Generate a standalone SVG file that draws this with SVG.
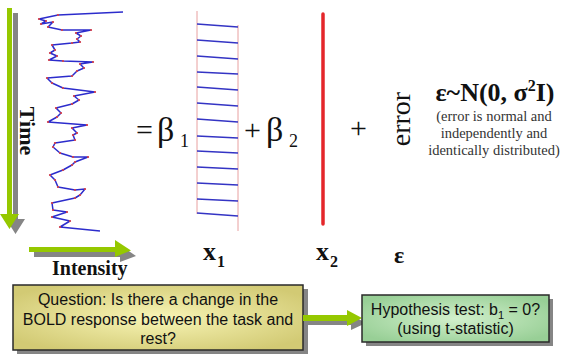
<svg xmlns="http://www.w3.org/2000/svg" width="562" height="355" viewBox="0 0 562 355">
<defs>
<radialGradient id="gq" cx="50%" cy="50%" r="60%">
<stop offset="0" stop-color="#f8f5b6"/>
<stop offset="1" stop-color="#d2ca74"/>
</radialGradient>
<radialGradient id="gh" cx="50%" cy="50%" r="60%">
<stop offset="0" stop-color="#d2f0cc"/>
<stop offset="1" stop-color="#98cf96"/>
</radialGradient>
<marker id="dot" markerUnits="userSpaceOnUse" markerWidth="4" markerHeight="4" refX="2" refY="2">
<circle cx="2" cy="2" r="1.1" fill="#e04040"/>
</marker>
</defs>
<style>
.serif{font-family:"Liberation Serif","Times New Roman",serif;fill:#111}
.b{font-weight:bold}
.sans{font-family:"Liberation Sans",Arial,sans-serif;font-size:16px;fill:#111;text-anchor:middle}
.green2{fill:#95c800}
.shadow{fill:#858585}
.box{stroke:#2a2a2a;stroke-width:1.5}
.wave{fill:none;stroke:#2c2ccc;stroke-width:1.5;stroke-linejoin:round;marker-mid:url(#dot)}
.sq{stroke:#3434c4;stroke-width:1.7}
.pink{stroke:#e8a0a0;stroke-width:1}
.small{font-size:14.5px;fill:#333;text-anchor:middle}
</style>

<!-- axes arrows -->
<g id="time-arrow">
<polygon class="shadow" points="13,13 18,13 18,219 25,219 15.5,234 6,219 13,219"/>
<polygon class="green2" points="7,8 12,8 12,214 19,214 9.5,229 0,214 7,214"/>
</g>
<g id="intensity-arrow">
<polygon class="shadow" points="34,252 120,252 120,245 136,256 120,262 120,257 34,257"/>
<polygon class="green2" points="29,247 115,247 115,240 131,250.5 115,257 115,252 29,252"/>
</g>
<text class="serif b" font-size="22" transform="translate(20,131) rotate(90)" text-anchor="middle">Time</text>
<text class="serif b" x="52" y="275" font-size="20">Intensity</text>

<!-- data time series -->
<g id="data">
<polyline class="wave" points="123,12 58,15 39,19 46,21 41,24 53,22 48,27 62,30 91,30 76,33 81,36 77,39 80,42 72,43 52,45 55,50 50,53 57,56 49,60 63,61 93,62 80,64 84,68 77,71 72,76 47,78 52,83 63,88 95,92 74,96 79,100 72,104 56,108 61,113 57,117 48,122 87,125 72,128 77,133 73,135 75,140 55,143 53,147 60,153 73,157 88,157 75,162 72,165 63,170 50,175 55,180 58,187 75,190 85,189 80,195 75,198 52,203 53,210 67,212 52,217 70,221 60,227 100,231"/>
</g>

<!-- equation -->
<text class="serif" x="136" y="140" font-size="30">=</text>
<text class="serif" x="157" y="141" font-size="34">β</text>
<text class="serif" x="180" y="147" font-size="18">1</text>

<g id="x1">
<line class="pink" x1="197" y1="11" x2="197" y2="214"/>
<line class="pink" x1="238" y1="25" x2="238" y2="231"/>
<g class="sq">
<line x1="197" y1="24" x2="238" y2="27"/>
<line x1="197" y1="40" x2="238" y2="43"/>
<line x1="197" y1="56" x2="238" y2="59"/>
<line x1="197" y1="72" x2="238" y2="74"/>
<line x1="197" y1="87" x2="238" y2="90"/>
<line x1="197" y1="103" x2="238" y2="106"/>
<line x1="197" y1="119" x2="238" y2="122"/>
<line x1="197" y1="136" x2="238" y2="138"/>
<line x1="197" y1="151" x2="238" y2="153"/>
<line x1="197" y1="167" x2="238" y2="169"/>
<line x1="197" y1="183" x2="238" y2="185"/>
<line x1="197" y1="199" x2="238" y2="201"/>
<line x1="197" y1="213" x2="238" y2="216"/>
</g>
</g>

<text class="serif" x="244" y="140" font-size="30">+</text>
<text class="serif" x="266" y="141" font-size="34">β</text>
<text class="serif" x="289" y="147" font-size="18">2</text>

<g id="x2">
<line x1="323" y1="14" x2="323" y2="224" stroke="#e4262a" stroke-width="3.5" stroke-linecap="round"/>
</g>

<text class="serif" x="350" y="138" font-size="30">+</text>
<text class="serif" font-size="28" transform="translate(410,119) rotate(-90)" text-anchor="middle">error</text>

<text class="serif b" x="495" y="101" font-size="26" text-anchor="middle">ε~N(0, σ<tspan font-size="16" dy="-10">2</tspan><tspan dy="10">I)</tspan></text>
<text class="serif small" x="494" y="121">(error is normal and</text>
<text class="serif small" x="494" y="138">independently and</text>
<text class="serif small" x="494" y="155">identically distributed)</text>

<!-- column labels -->
<text class="serif b" x="203" y="260" font-size="26">x</text>
<text class="serif b" x="217" y="267" font-size="16">1</text>
<text class="serif b" x="316" y="260" font-size="26">x</text>
<text class="serif b" x="330" y="267" font-size="16">2</text>
<text class="serif b" x="394" y="263" font-size="24">ε</text>

<!-- boxes -->
<g id="question">
<rect class="shadow" x="17" y="289" width="291" height="65"/>
<rect class="box" x="13" y="285" width="290" height="65" fill="url(#gq)"/>
<text class="sans" x="158" y="305">Question: Is there a change in the</text>
<text class="sans" x="158" y="325">BOLD response between the task and</text>
<text class="sans" x="158" y="344">rest?</text>
</g>

<g id="connectors">
<polygon class="shadow" points="306,320 351,320 351,315 366,323 351,330 351,325 306,325"/>
<polygon class="green2" points="303,315 347,315 347,310 362,318 347,326 347,321 303,321"/>
</g>

<g id="hypothesis">
<rect class="shadow" x="366" y="299" width="187" height="47"/>
<rect class="box" x="362" y="295" width="187" height="47" fill="url(#gh)"/>
<text class="sans" x="455.5" y="315">Hypothesis test: b<tspan font-size="11" dy="4">1</tspan><tspan dy="-4"> = 0?</tspan></text>
<text class="sans" x="455.5" y="334">(using t-statistic)</text>
</g>
</svg>
